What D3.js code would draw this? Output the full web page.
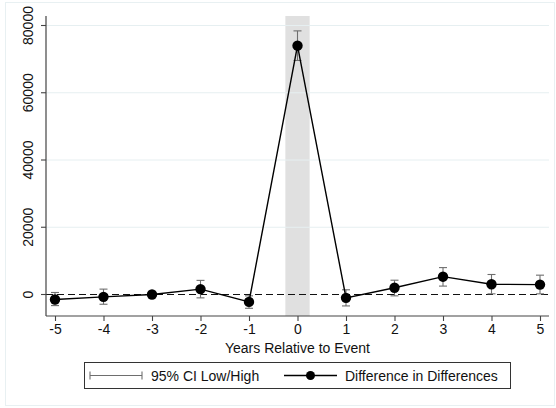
<!DOCTYPE html>
<html><head><meta charset="utf-8">
<script src="https://cdn.jsdelivr.net/npm/d3@7"></script>
<style>body{margin:0;background:#fff}svg{display:block;font-family:Arial,"Liberation Sans",sans-serif}</style>
</head><body><svg id="c" width="556" height="408"></svg>
<script>
const years = [-5,-4,-3,-2,-1,0,1,2,3,4,5];
const did   = [-1500,-700,0,1600,-2200,74000,-1000,2000,5300,3050,2950];
const ciLow = [-3300,-2900,0,-1000,-4100,69600,-3400,-400,2500,200,200];
const ciHigh= [600,1600,0,4200,-400,78400,1400,4250,8000,5950,5750];
const yTicks = [0,20000,40000,60000,80000];
const xLabel = "Years Relative to Event";
const legendLabels = ["95% CI Low/High","Difference in Differences"];

const FF = "Arial,'Liberation Sans',sans-serif";
const FS = 14;
const svg = d3.select("#c");
const L=46, R=549, T=16, B=316;
const x = d3.scaleLinear().domain([-5 - (55-L)/48.5, 5 + (R-540)/48.5]).range([L,R]);
const y = d3.scaleLinear().domain([0,80000]).range([294.5,25.5]);

// outer frame
svg.append("rect").attr("x",5.5).attr("y",2.5).attr("width",549).attr("height",403)
  .attr("fill","#fff").attr("stroke","#e8f0f2");

// shaded band
svg.append("rect").attr("x",x(-0.25)).attr("y",T).attr("width",x(0.25)-x(-0.25)).attr("height",B-T)
  .attr("fill","#e0e0e0");

// gridlines
svg.append("g").selectAll("line").data(yTicks.filter(d=>d>0)).join("line")
  .attr("x1",L).attr("x2",R).attr("y1",d=>y(d)).attr("y2",d=>y(d))
  .attr("stroke","#e6eff1").attr("stroke-width",1);

// zero dashed
svg.append("line").attr("x1",L).attr("x2",R).attr("y1",y(0)).attr("y2",y(0))
  .attr("stroke","#111").attr("stroke-width",1.2).attr("stroke-dasharray","7,4");

// axes
const yAx = svg.append("g").attr("transform",`translate(${L},0)`)
  .call(d3.axisLeft(y).tickValues(yTicks).tickSize(5).tickFormat(d=>String(d)));
yAx.select(".domain").attr("d",`M0,${T}V${B}`);
yAx.selectAll(".tick").attr("transform",null);
yAx.selectAll(".tick line").attr("y1",d=>y(d)).attr("y2",d=>y(d));
yAx.selectAll(".tick text")
  .attr("x",-13).attr("y",d=>y(d)).attr("dy",0)
  .attr("text-anchor","middle")
  .attr("transform",d=>`rotate(-90,${-13},${y(d)})`);

const xAx = svg.append("g").attr("transform",`translate(0,${B})`)
  .call(d3.axisBottom(x).tickValues(years).tickSize(5).tickFormat(d=>String(d)));
xAx.select(".domain").attr("d",`M${L},0H${R}`);
xAx.selectAll("text").attr("dy","0.71em").attr("y",8);

[yAx,xAx].forEach(g=>{
  g.attr("font-family",FF).attr("font-size",FS);
  g.selectAll(".domain").attr("stroke","#444").attr("stroke-width",1.2);
  g.selectAll(".tick line").attr("stroke","#444").attr("stroke-width",1.1);
  g.selectAll("text").attr("font-size",FS).attr("fill","#111").attr("font-family",FF);
});

svg.append("text").attr("x",x(0)).attr("y",353).attr("text-anchor","middle")
  .attr("font-size",FS).attr("font-family",FF).attr("fill","#111").text(xLabel);

// CI bars
const ci = svg.append("g").attr("stroke","#6e6e6e").attr("stroke-width",1.1).attr("fill","none");
years.forEach((yr,i)=>{
  if (ciLow[i]===ciHigh[i]) return;
  const cx=x(yr);
  ci.append("line").attr("x1",cx).attr("x2",cx).attr("y1",y(ciLow[i])).attr("y2",y(ciHigh[i]));
  ci.append("line").attr("x1",cx-4).attr("x2",cx+4).attr("y1",y(ciLow[i])).attr("y2",y(ciLow[i]));
  ci.append("line").attr("x1",cx-4).attr("x2",cx+4).attr("y1",y(ciHigh[i])).attr("y2",y(ciHigh[i]));
});

// line
svg.append("path").datum(years.map((yr,i)=>[yr,did[i]]))
  .attr("d",d3.line().x(d=>x(d[0])).y(d=>y(d[1])))
  .attr("fill","none").attr("stroke","#000").attr("stroke-width",1.4);
svg.append("g").selectAll("circle").data(years.map((yr,i)=>[yr,did[i]])).join("circle")
  .attr("cx",d=>x(d[0])).attr("cy",d=>y(d[1])).attr("r",5.2).attr("fill","#000");

// legend
const lg = svg.append("g").attr("font-family",FF);
lg.append("rect").attr("x",84.5).attr("y",362.5).attr("width",426).attr("height",26)
  .attr("fill","#fff").attr("stroke","#333").attr("stroke-width",1);
const ly=375.5;
lg.append("line").attr("x1",90).attr("x2",142).attr("y1",ly).attr("y2",ly).attr("stroke","#6e6e6e").attr("stroke-width",1.1);
lg.append("line").attr("x1",90).attr("x2",90).attr("y1",ly-4).attr("y2",ly+4).attr("stroke","#6e6e6e").attr("stroke-width",1.1);
lg.append("line").attr("x1",142).attr("x2",142).attr("y1",ly-4).attr("y2",ly+4).attr("stroke","#6e6e6e").attr("stroke-width",1.1);
lg.append("text").attr("x",151).attr("y",ly+5).attr("font-size",FS).attr("fill","#111").text(legendLabels[0]);
lg.append("line").attr("x1",284).attr("x2",337).attr("y1",ly).attr("y2",ly).attr("stroke","#000").attr("stroke-width",1.4);
lg.append("circle").attr("cx",310.5).attr("cy",ly).attr("r",4.5).attr("fill","#000");
lg.append("text").attr("x",345).attr("y",ly+5).attr("font-size",FS).attr("fill","#111").text(legendLabels[1]);
</script></body></html>
